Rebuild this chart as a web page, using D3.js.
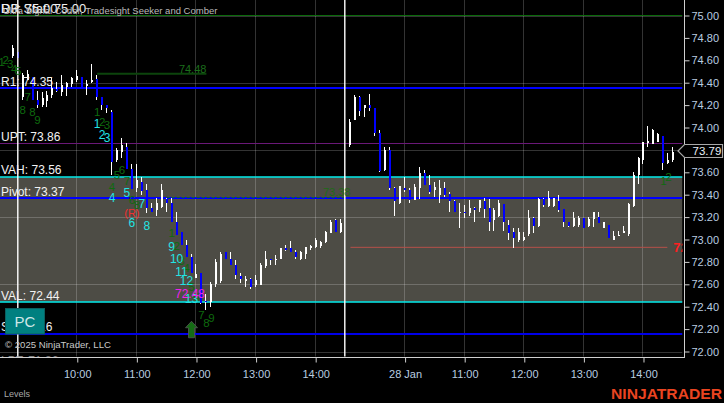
<!DOCTYPE html>
<html><head><meta charset="utf-8">
<script src="https://cdn.jsdelivr.net/npm/d3@7/dist/d3.min.js"></script>
<style>html,body{margin:0;padding:0;background:#000;overflow:hidden}svg{display:block}text{font-family:"Liberation Sans",Arial,sans-serif}</style>
</head><body><svg id="c" width="724" height="403"></svg>
<script>
const highs=[74.74,74.67,74.49,74.51,74.45,74.33,74.32,74.33,74.44,74.41,74.47,74.41,74.45,74.51,74.45,74.42,74.57,74.47,74.27,74.20,74.16,73.82,73.91,73.86,73.67,73.67,73.56,73.50,73.33,73.37,73.50,73.37,73.37,73.25,73.07,73.00,72.87,72.78,72.70,72.51,72.62,72.83,72.89,72.89,72.89,72.82,72.70,72.67,72.66,72.68,72.79,72.90,72.83,72.86,72.92,72.95,72.99,72.91,72.90,72.93,72.95,73.01,72.99,73.08,73.17,73.18,73.18,null,74.08,74.29,74.28,74.20,74.30,74.17,73.98,73.83,73.83,73.47,73.48,73.56,73.46,73.50,73.65,73.62,73.58,73.51,73.53,73.51,73.42,73.35,73.33,73.31,73.35,73.29,73.35,73.37,73.36,73.28,73.35,73.32,73.17,73.10,73.10,73.07,73.26,73.20,73.37,73.37,73.43,73.37,73.40,73.27,73.16,73.25,73.21,73.19,73.20,73.25,73.25,73.16,73.13,73.08,73.08,73.12,73.33,73.60,73.74,73.87,74.01,73.99,73.95,73.92,73.77,73.83];
const lows=[74.62,74.62,74.25,74.42,74.25,74.17,74.18,74.18,74.26,74.32,74.28,74.28,74.36,74.41,74.36,74.29,74.40,74.25,74.16,74.13,73.58,73.69,73.73,73.63,73.45,73.42,73.40,73.24,73.25,73.21,73.28,73.25,73.16,73.04,72.95,72.84,72.70,72.66,72.42,72.37,72.40,72.58,72.61,72.83,72.77,72.65,72.61,72.58,72.56,72.58,72.59,72.75,72.77,72.77,72.83,72.90,72.89,72.83,72.82,72.83,72.91,72.92,72.92,72.97,73.06,73.07,73.06,null,73.83,74.07,74.10,74.09,74.15,73.92,73.60,73.61,73.44,73.21,73.32,73.42,73.33,73.35,73.36,73.49,73.41,73.38,73.33,73.38,73.25,73.25,73.10,73.19,73.21,73.16,73.25,73.19,73.08,73.08,73.20,73.08,73.00,72.92,72.98,72.99,73.03,73.06,73.11,73.29,73.29,73.29,73.25,73.11,73.11,73.11,73.11,73.10,73.11,73.11,73.16,73.10,73.01,73.00,73.04,73.06,73.03,73.29,73.50,73.67,73.83,73.86,73.88,73.62,73.67,73.69];
const opens=[74.64,74.67,74.27,74.42,74.45,74.25,74.20,74.24,74.29,74.34,74.32,74.36,74.39,74.42,74.45,74.37,74.41,74.43,74.27,74.20,74.14,73.71,73.78,73.83,73.63,73.46,73.51,73.44,73.28,73.26,73.29,73.36,73.33,73.16,73.07,72.95,72.84,72.66,72.70,72.45,72.44,72.60,72.63,72.89,72.83,72.77,72.67,72.63,72.65,72.59,72.59,72.76,72.83,72.82,72.83,72.92,72.92,72.89,72.83,72.87,72.92,72.93,72.94,72.98,73.06,73.17,73.07,null,73.84,74.07,74.27,74.17,74.20,74.17,73.95,73.62,73.80,73.46,73.33,73.46,73.44,73.35,73.46,73.59,73.49,73.44,73.40,73.46,73.41,73.34,73.24,73.25,73.24,73.28,73.28,73.34,73.28,73.17,73.21,73.32,73.13,73.07,73.00,73.00,73.05,73.19,73.12,73.36,73.30,73.30,73.34,73.27,73.16,73.12,73.13,73.19,73.12,73.18,73.20,73.10,73.13,73.00,73.03,73.06,73.05,73.30,73.58,73.71,73.86,73.85,73.87,73.92,73.68,73.71];
const closes=[74.71,74.62,74.47,74.48,74.25,74.20,74.26,74.29,74.35,74.33,74.38,74.40,74.44,74.46,74.36,74.39,74.42,74.27,74.20,74.17,73.69,73.80,73.84,73.63,73.45,73.53,73.43,73.28,73.25,73.33,73.44,73.33,73.16,73.04,72.95,72.84,72.70,72.69,72.43,72.44,72.60,72.80,72.87,72.83,72.77,72.68,72.65,72.65,72.58,72.64,72.77,72.83,72.82,72.83,72.92,72.91,72.89,72.84,72.89,72.93,72.94,73.00,72.98,73.07,73.16,73.07,73.15,null,74.05,74.27,74.15,74.20,74.17,73.95,73.61,73.80,73.46,73.34,73.48,73.44,73.35,73.47,73.59,73.49,73.42,73.47,73.46,73.40,73.34,73.25,73.25,73.24,73.28,73.26,73.35,73.27,73.16,73.26,73.33,73.16,73.06,73.01,73.07,73.02,73.19,73.12,73.36,73.31,73.37,73.37,73.26,73.16,73.12,73.19,73.19,73.10,73.18,73.25,73.15,73.16,73.01,73.03,73.04,73.08,73.32,73.58,73.73,73.87,73.88,73.98,73.94,73.68,73.71,73.78];

const priceTicks=[75,74.8,74.6,74.4,74.2,74,73.6,73.4,73.2,73,72.8,72.6,72.4,72.2,72];
const gridPrices=[75,74.4,73.8,73.2,72.6,72];
const timeBars=[13,25,37,49,61,79,91,103,115,127];
const timeLabels=["10:00","11:00","12:00","13:00","14:00","28 Jan","11:00","12:00","13:00","14:00"];
const sessionBars=[1,67];

const levelNames=["R1","UPT","VAH","Pivot","VAL","S1","LPT"];
const levelValues=[74.35,73.86,73.56,73.37,72.44,72.16,71.86];
const levelColors=["#0000ff","#6a1878","#00e8e8","#0000ff","#00e8e8","#0000e8",null];
const vaHigh=73.56, vaLow=72.44, topLine=75.00, lastPrice=73.79;

const seekerTexts=["1","2","3","4","5","7","8","8","9","1","2","3","4","5","6","7","6","8","1","2","3","4","5","6","7","8","9","1","2"];
const seekerBars=[-2.2,-1.4,-0.5,0.3,1.1,3,2,4,5,17,18,19,20,21,22,23,24,25,32,33,34,35,36,37,38,39,40,131,132];
const seekerPrices=[74.59,74.60,74.57,74.52,74.51,74.27,74.16,74.14,74.07,74.14,74.05,74.02,73.47,73.58,73.62,73.52,73.35,73.31,73.06,72.94,72.81,72.75,72.58,72.49,72.33,72.26,72.30,73.52,73.56];
const comberTexts=["1","2","3","4","5","6","7","8","9","10","11","12","13"];
const comberBars=[17,18,19,20,23,24,26,27,32,33,34,35,36];
const comberPrices=[74.03,73.94,73.91,73.37,73.42,73.15,73.32,73.12,72.94,72.83,72.71,72.63,72.47];

const W=724,H=403,plotR=682.5,axisX=684,axisY=357;
const x=d3.scaleLinear().domain([0,133]).range([12.7,673.3]);
const y=d3.scaleLinear().domain([72,75]).range([351.5,15.5]);
const px=v=>Math.round(x(v));
const svg=d3.select("#c");
const defs=svg.append("defs");
defs.append("clipPath").attr("id","plot").append("rect").attr("x",0).attr("y",0).attr("width",plotR).attr("height",axisY-0.5);
svg.append("rect").attr("width",W).attr("height",H).attr("fill","#000");
const g=svg.append("g").attr("clip-path","url(#plot)");

// value area band
g.append("rect").attr("x",0).attr("width",plotR).attr("y",y(vaHigh)).attr("height",y(vaLow)-y(vaHigh)).attr("fill","#4d4c45");

// grid
const gridColor="rgba(255,255,255,0.2)";
g.selectAll(".gh").data(gridPrices).join("line").attr("x1",0).attr("x2",plotR)
 .attr("y1",d=>Math.round(y(d))+.5).attr("y2",d=>Math.round(y(d))+.5).attr("stroke",gridColor);
g.selectAll(".gv").data(timeBars).join("line").attr("y1",0).attr("y2",axisY)
 .attr("x1",d=>Math.round(x(d))-.5).attr("x2",d=>Math.round(x(d))-.5).attr("stroke",gridColor);

// level lines
g.append("line").attr("x1",0).attr("x2",plotR).attr("y1",Math.floor(y(topLine))+.5).attr("y2",Math.floor(y(topLine))+.5).attr("stroke","#0b6a0b").attr("stroke-width",1);
levelValues.forEach((v,i)=>{ if(!levelColors[i])return;
 const one=levelNames[i]==="UPT";
 const yy=one?Math.floor(y(v))+.5:Math.round(y(v));
 g.append("line").attr("x1",0).attr("x2",plotR).attr("y1",yy).attr("y2",yy).attr("stroke",levelColors[i]).attr("stroke-width",one?1:(levelNames[i].startsWith("VA")?1.5:2));
});
// seeker lines
g.append("line").attr("x1",x(17)).attr("x2",x(39)).attr("y1",y(74.48)).attr("y2",y(74.48)).attr("stroke","#0c440c").attr("stroke-width",2);
g.append("line").attr("x1",x(31)).attr("x2",x(67)).attr("y1",y(73.38)+.6).attr("y2",y(73.38)+.6).attr("stroke","#0a6a2a").attr("stroke-width",1).attr("stroke-dasharray","3,2");
g.append("line").attr("x1",x(68)).attr("x2",x(131.8)).attr("y1",y(72.93)).attr("y2",y(72.93)).attr("stroke","#b5504a").attr("stroke-width",1);

// bars
const idx=d3.range(highs.length).filter(i=>highs[i]!=null);
g.selectAll(".w").data(idx).join("rect").attr("x",i=>px(i)-1).attr("width",1)
 .attr("y",i=>y(highs[i])).attr("height",i=>y(lows[i])-y(highs[i])).attr("fill","#fff").attr("shape-rendering","crispEdges");
g.selectAll(".b").data(idx).join("rect").attr("x",i=>px(i)-1).attr("width",2)
 .attr("y",i=>y(Math.max(opens[i],closes[i]))).attr("height",i=>Math.max(1,Math.abs(y(opens[i])-y(closes[i]))))
 .attr("fill",i=>closes[i]>=opens[i]?"#fff":"#0000ff").attr("shape-rendering","crispEdges");

// session lines
g.selectAll(".s").data(sessionBars).join("line").attr("y1",0).attr("y2",axisY)
 .attr("x1",d=>px(d)-.2).attr("x2",d=>px(d)-.2).attr("stroke","#fff").attr("stroke-width",1.4);

// axes
const ax=svg.append("g").attr("transform",`translate(${axisX+.5},0)`).call(d3.axisRight(y).tickValues(priceTicks).tickFormat(d3.format(".2f")).tickSize(5).tickPadding(2));
const bx=svg.append("g").attr("transform",`translate(0,${axisY+.5})`).call(d3.axisBottom(x).tickValues(timeBars).tickFormat((d,i)=>timeLabels[i]).tickSize(5).tickPadding(8));
[ax,bx].forEach(a=>{a.select(".domain").remove();a.selectAll(".tick line").attr("stroke","#cfcfcf");a.selectAll("text").attr("fill","#b9cde0").attr("font-size",11).attr("font-family",'"Liberation Sans",Arial,sans-serif');});
svg.append("line").attr("x1",axisX+.5).attr("x2",axisX+.5).attr("y1",0).attr("y2",axisY+1).attr("stroke","#cfcfcf");
svg.append("line").attr("x1",0).attr("x2",axisX+1).attr("y1",axisY+.5).attr("y2",axisY+.5).attr("stroke","#cfcfcf");

// last price tag
const ly=y(lastPrice);
svg.append("path").attr("d",`M678,${ly} L684.5,${ly-6.5} L722.5,${ly-6.5} L722.5,${ly+6.5} L684.5,${ly+6.5} Z`).attr("fill","#000").attr("stroke","#a8a8a8").attr("stroke-width",1.2);
svg.append("text").attr("x",692.5).attr("y",ly+4).attr("fill","#e8eef4").attr("font-size",11.5).text(lastPrice.toFixed(2));

// level labels
g.selectAll(".ll").data(levelValues).join("text").attr("x",1).attr("y",d=>y(d)-2.5)
 .attr("fill","#f2f2f2").attr("font-size",12).text((d,i)=>`${levelNames[i]}: ${d.toFixed(2)}`);

// marker numbers
const mark=(texts,bars,prices,color,size)=>{g.selectAll(null).data(texts).join("text").attr("text-anchor","middle")
 .attr("x",(d,i)=>x(bars[i])).attr("y",(d,i)=>y(prices[i])+size*.36).attr("fill",color).attr("font-size",size).text(d=>d);};
mark(seekerTexts,seekerBars,seekerPrices,"#0e6a0e",11.5);
mark(comberTexts,comberBars,comberPrices,"#22e4e4",12);
g.append("text").attr("text-anchor","end").attr("x",x(39)).attr("y",y(74.48)-1).attr("fill","#1b6e1b").attr("font-size",11).text("74.48");
g.append("text").attr("text-anchor","end").attr("x",x(67)+5).attr("y",y(73.38)-1).attr("fill","#1f6a18").attr("font-size",11).text("73.38");
g.append("text").attr("text-anchor","middle").attr("x",x(24)).attr("y",y(73.24)+4).attr("fill","#f03030").attr("font-size",11).text("(R)");
g.append("text").attr("text-anchor","middle").attr("x",x(35.7)).attr("y",y(72.48)).attr("fill","#f020f0").attr("font-size",12).text("72.48");
g.append("text").attr("x",x(133)).attr("y",y(72.93)+5).attr("fill","#ff2020").attr("font-size",13).attr("font-weight","bold").text("72.93");

// buy arrow
const ax0=x(36), ay=y(72.27);
svg.append("path").attr("d",`M${ax0},${ay} l6,6.5 h-3 v10 h-6 v-10 h-3 Z`).attr("fill","#146c14").attr("stroke","#555").attr("stroke-width",.8);

// header texts
g.append("text").attr("x",1).attr("y",13).attr("fill","#eee").attr("font-size",13).text("DR Stat: 75.00");
g.append("text").attr("x",1).attr("y",13).attr("fill","#eee").attr("font-size",13).text("R3: 75.00");
g.append("text").attr("x",3).attr("y",14).attr("fill","#bbb").attr("font-size",9.5).text("Ultra Signal Coder, Tradesight Seeker and Comber");

// PC button
svg.append("rect").attr("x",5.5).attr("y",308.5).attr("width",39).attr("height",25.5).attr("fill","#008080").attr("stroke","#0a5f5f");
svg.append("text").attr("x",25).attr("y",327).attr("text-anchor","middle").attr("fill","#cfe8e8").attr("font-size",15).text("PC");

// footer
svg.append("text").attr("x",5).attr("y",348).attr("fill","#c8c8c8").attr("font-size",9.6).text("© 2025 NinjaTrader, LLC");
svg.append("text").attr("x",4).attr("y",397).attr("fill","#a8a8a8").attr("font-size",9).text("Levels");
svg.append("text").attr("x",611).attr("y",398.5).attr("fill","#ea4420").attr("font-size",15.5).attr("font-weight","bold").attr("textLength",111).attr("lengthAdjust","spacingAndGlyphs").text("NINJATRADER");
</script></body></html>
